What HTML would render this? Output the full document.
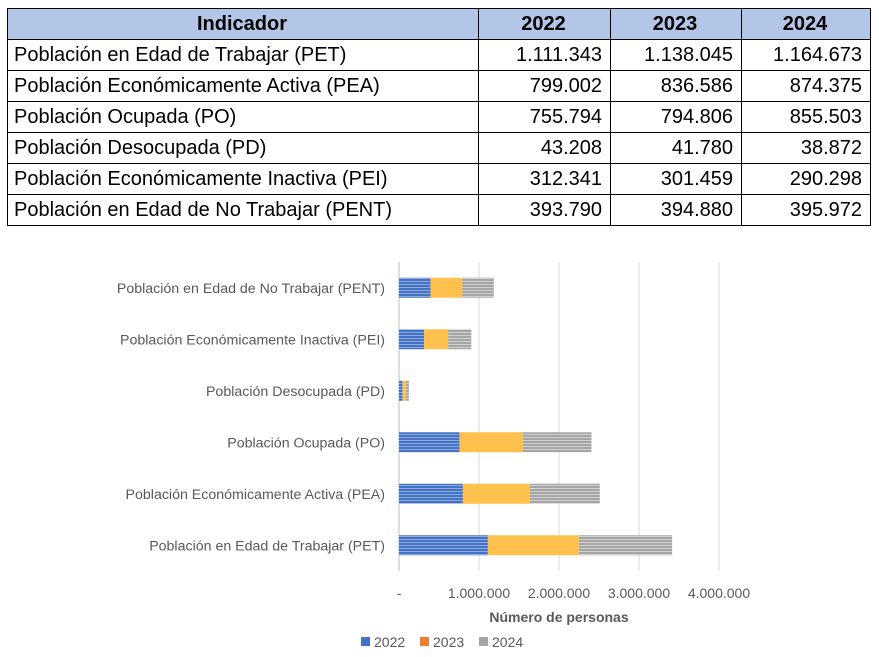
<!DOCTYPE html>
<html><head><meta charset="utf-8">
<style>
body{margin:0;width:879px;height:657px;background:#fff;font-family:"Liberation Sans",sans-serif;overflow:hidden;position:relative}
table{position:absolute;left:7px;top:8px;border-collapse:collapse;font-size:20px;color:#000;table-layout:fixed}
td,th{border:1px solid #000;height:31px;padding:0 8px 0 6px;box-sizing:border-box;white-space:nowrap}
th{background:#b4c6e7;font-weight:bold;font-size:20px;text-align:center}
td.n{text-align:right}
svg{position:absolute;left:0;top:0}
</style></head><body>
<table>
<colgroup><col style="width:471px"><col style="width:132px"><col style="width:131px"><col style="width:129px"></colgroup>
<tr><th>Indicador</th><th>2022</th><th>2023</th><th>2024</th></tr>
<tr><td>Población en Edad de Trabajar (PET)</td><td class="n">1.111.343</td><td class="n">1.138.045</td><td class="n">1.164.673</td></tr>
<tr><td>Población Económicamente Activa (PEA)</td><td class="n">799.002</td><td class="n">836.586</td><td class="n">874.375</td></tr>
<tr><td>Población Ocupada (PO)</td><td class="n">755.794</td><td class="n">794.806</td><td class="n">855.503</td></tr>
<tr><td>Población Desocupada (PD)</td><td class="n">43.208</td><td class="n">41.780</td><td class="n">38.872</td></tr>
<tr><td>Población Económicamente Inactiva (PEI)</td><td class="n">312.341</td><td class="n">301.459</td><td class="n">290.298</td></tr>
<tr><td>Población en Edad de No Trabajar (PENT)</td><td class="n">393.790</td><td class="n">394.880</td><td class="n">395.972</td></tr>
</table>
<svg id="chart" width="879" height="657">
<defs>
<pattern id="pb" width="4" height="3" patternUnits="userSpaceOnUse"><rect width="4" height="3" fill="#4472c4"/><rect y="2" width="4" height="1" fill="#8eaadb"/></pattern>
<pattern id="po" width="4" height="3" patternUnits="userSpaceOnUse"><rect width="4" height="3" fill="#ffc14d"/></pattern>
<pattern id="pg" width="4" height="3" patternUnits="userSpaceOnUse"><rect width="4" height="3" fill="#a5a5a5"/><rect y="2" width="4" height="1" fill="#d0d0d0"/></pattern>
</defs>
</svg>
<script>
const categories=["Población en Edad de Trabajar (PET)","Población Económicamente Activa (PEA)","Población Ocupada (PO)","Población Desocupada (PD)","Población Económicamente Inactiva (PEI)","Población en Edad de No Trabajar (PENT)"];
const series2022=[1111343,799002,755794,43208,312341,393790];
const series2023=[1138045,836586,794806,41780,301459,394880];
const series2024=[1164673,874375,855503,38872,290298,395972];
const tickValues=[0,1000000,2000000,3000000,4000000];
const tickLabels=["-","1.000.000","2.000.000","3.000.000","4.000.000"];
const seriesNames=["2022","2023","2024"];
const svg=document.getElementById('chart');const NS="http://www.w3.org/2000/svg";
const x0=399,pxPerUnit=80/1000000,yTop=262,yBot=571;
const xs=v=>x0+v*pxPerUnit;
const band=(yBot-yTop)/categories.length;
const yc=i=>yBot-band*(i+0.5);
function mk(t,a){const e=document.createElementNS(NS,t);for(const k in a)e.setAttribute(k,a[k]);svg.appendChild(e);return e;}
tickValues.forEach((v,i)=>{
 if(i>0){const g=mk('line',{x1:xs(v),x2:xs(v),y1:yTop,y2:yBot,stroke:'#d9d9d9'});
 
 }
 const t=mk('text',{x:xs(v),y:598,'text-anchor':'middle','font-size':'14',fill:'#595959'});t.textContent=tickLabels[i];
 
 
});
const ax=mk('line',{x1:x0,x2:x0,y1:yTop,y2:yBot,stroke:'#bfbfbf'});


const fills=["url(#pb)","url(#po)","url(#pg)"];const all=[series2022,series2023,series2024];
categories.forEach((c,i)=>{
 const l=mk('text',{x:385,y:yc(i)+5,'text-anchor':'end','font-size':'14.2',fill:'#595959'});l.textContent=c;
 
 
 let acc=0;
 all.forEach((s,k)=>{
  const r=mk('rect',{x:xs(acc),y:yc(i)-10,width:s[i]*pxPerUnit,height:20,fill:fills[k]});
  
  
  acc+=s[i];
 });
});
const tt=mk('text',{x:559,y:622,'text-anchor':'middle','font-size':'14','font-weight':'bold',fill:'#595959'});tt.textContent="Número de personas";


const lx=[361,420,479];const lc=["#4472c4","#ed7d31","#a5a5a5"];
seriesNames.forEach((n,k)=>{
 const r=mk('rect',{x:lx[k],y:637,width:9,height:9,fill:lc[k]});
 
 
 const t=mk('text',{x:lx[k]+13,y:647,'font-size':'14',fill:'#595959'});t.textContent=n;
 
 
});
</script>
</body></html>
